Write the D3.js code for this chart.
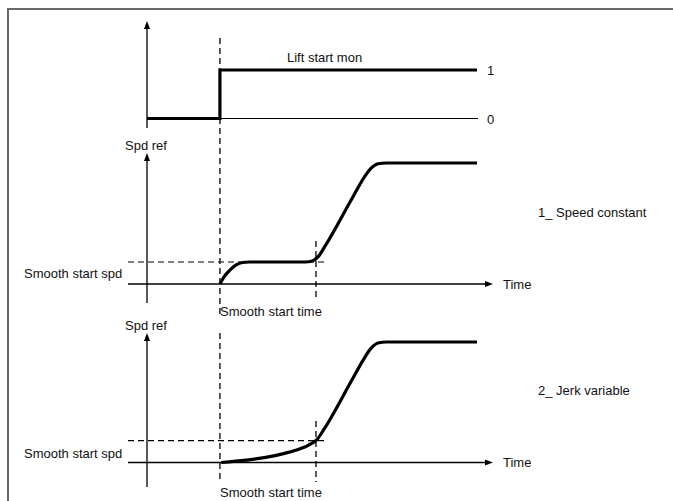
<!DOCTYPE html>
<html><head><meta charset="utf-8">
<script src="https://cdn.jsdelivr.net/npm/d3@7"></script>
<style>body{margin:0;background:#fff;} text{font-family:"Liberation Sans",Arial,sans-serif;font-size:13px;fill:#111;}</style>
</head><body>
<svg id="c" width="673" height="501"></svg>
<script>
// ---- data ----
const liftT = [0, 22.1, 22.1, 100];
const liftV = [0, 0, 1, 1];
const speedConstT = [22.1, 23.5, 25.2, 27, 29, 31, 40, 47, 49, 50.5, 52, 54, 62, 66, 68, 70, 72.5, 100];
const speedConstV = [0, 6.5, 11.6, 15.8, 17.8, 18.2, 18.2, 18.2, 18.4, 19.5, 23, 31.5, 70, 89, 96, 99.4, 100, 100];
const jerkT = [22.5, 30, 36, 42, 46, 49, 51.5, 53.5, 62, 65.5, 67.8, 70, 72.5, 100];
const jerkV = [0, 2, 4.2, 7.8, 11, 14.5, 19, 27, 68, 85, 94.5, 99.2, 100, 100];
const smoothStartT = 22.1;
const smoothEndT = 51.2;
const smoothSpd = 18.2;
const labels = {lift:"Lift start mon", one:"1", zero:"0", spd:"Spd ref", sss:"Smooth start spd", sst:"Smooth start time", time:"Time", p1:"1_ Speed constant", p2:"2_ Jerk variable"};

// ---- scales ----
const svg = d3.select("#c");
const x = d3.scaleLinear().domain([0,100]).range([147,477]);
const yTop = d3.scaleLinear().domain([0,1]).range([118.5,70]);
const y2 = d3.scaleLinear().domain([0,100]).range([284,163]);
const y3 = d3.scaleLinear().domain([0,100]).range([462.5,342]);

// border
svg.append("rect").attr("x",8).attr("y",9).attr("width",720).attr("height",560)
  .attr("fill","none").attr("stroke","#6a6a6a").attr("stroke-width",2);

const g = svg.append("g");
function line(x1,y1,x2,y2_,w,dash){
  const l = g.append("line").attr("x1",x1).attr("y1",y1).attr("x2",x2).attr("y2",y2_)
    .attr("stroke","#000").attr("stroke-width",w||1.3);
  if(dash) l.attr("stroke-dasharray",dash);
  return l;
}
function arrowUp(cx, tipY){
  g.append("path").attr("d",`M${cx},${tipY} L${cx-3},${tipY+8} L${cx+3},${tipY+8} Z`).attr("fill","#000");
}
function arrowRight(tipX, cy){
  g.append("path").attr("d",`M${tipX},${cy} L${tipX-8},${cy-3} L${tipX-8},${cy+3} Z`).attr("fill","#000");
}
function text(t,xx,yy){ g.append("text").attr("x",xx).attr("y",yy).text(t); }

const x0 = x(0);
const xS = x(smoothStartT), xE = x(smoothEndT);

// dashed verticals at lift start
line(xS, 38, xS, 318, 1.3, "6,4");
line(xS, 333, xS, 483, 1.3, "6,4");

// ---- top panel ----
line(x0, 26, x0, 128, 1.3); arrowUp(x0, 21);
line(x0, yTop(0), x(100)+1, yTop(0), 1.1);
const lineGen = (ys) => d3.line().x(d=>x(d[0])).y(d=>ys(d[1]));
g.append("path").datum(d3.zip(liftT, liftV)).attr("d", lineGen(yTop).curve(d3.curveLinear))
  .attr("fill","none").attr("stroke","#000").attr("stroke-width",3.2);
text(labels.lift, 287, 62);
text(labels.one, 487, 75);
text(labels.zero, 487, 124);

// ---- panel 2 ----
line(x0, 158, x0, 303, 1.3); arrowUp(x0, 153);
line(128, y2(0), 486, y2(0), 1.3); arrowRight(493, y2(0));
line(128, y2(smoothSpd), 328, y2(smoothSpd), 1.2, "6,4");
line(xE, 241, xE, 300, 1.3, "6,4");
g.append("path").datum(d3.zip(speedConstT, speedConstV)).attr("d", lineGen(y2).curve(d3.curveMonotoneX))
  .attr("fill","none").attr("stroke","#000").attr("stroke-width",3.2).attr("stroke-linejoin","round");
text(labels.spd, 125, 150);
text(labels.sss, 24, 278);
text(labels.time, 503, 289);
text(labels.sst, 220, 316);
text(labels.p1, 538, 217);

// ---- panel 3 ----
line(x0, 338, x0, 487, 1.3); arrowUp(x0, 333);
line(128, y3(0), 486, y3(0), 1.3); arrowRight(493, y3(0));
line(128, y3(smoothSpd), 328, y3(smoothSpd), 1.2, "6,4");
line(xE, 421, xE, 482, 1.3, "6,4");
g.append("path").datum(d3.zip(jerkT, jerkV)).attr("d", lineGen(y3).curve(d3.curveMonotoneX))
  .attr("fill","none").attr("stroke","#000").attr("stroke-width",3.2).attr("stroke-linejoin","round");
text(labels.spd, 125, 330);
text(labels.sss, 24, 458);
text(labels.time, 503, 467);
text(labels.sst, 220, 497);
text(labels.p2, 538, 395);
</script>
</body></html>
